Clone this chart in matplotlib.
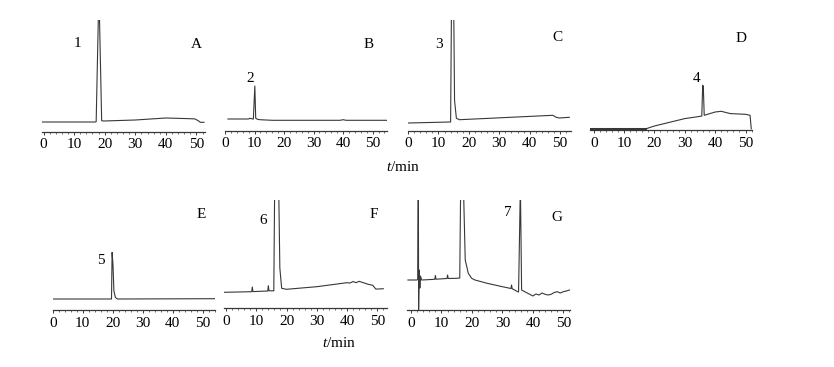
import numpy as np
import matplotlib
matplotlib.use('Agg')
import matplotlib.pyplot as plt
from matplotlib.ticker import MultipleLocator

# retention time (min) and detector signal (arbitrary units)
timeA = [-1.0, 16.9, 17.2, 17.9, 18.3, 19.0, 19.7, 30.0, 40.0, 48.0, 49.5, 50.6, 51.3, 52.5]
signalA = [9.7, 9.7, 10.0, 112.0, 112.0, 11.0, 10.7, 11.7, 13.7, 13.0, 12.8, 11.0, 9.4, 9.4]

timeB = [1.0, 8.0, 8.4, 9.6, 10.1, 10.4, 11.0, 11.8, 16.0, 39.0, 40.0, 41.0, 55.0]
signalB = [11.7, 11.7, 12.4, 11.6, 44.7, 12.5, 11.4, 11.0, 10.4, 10.4, 11.0, 10.4, 10.4]

timeC = [0.0, 14.0, 14.3, 15.0, 15.3, 15.9, 16.9, 26.8, 37.8, 47.6, 48.7, 49.7, 53.0]
signalC = [7.5, 8.5, 130.0, 130.0, 30.0, 12.2, 10.8, 12.2, 13.8, 15.2, 13.2, 12.5, 13.2]

timeD = [-1.0, 17.0, 20.0, 30.0, 35.6, 35.9, 36.1, 36.4, 40.0, 42.0, 45.0, 50.0, 51.5, 51.9]
signalD = [1.3, 1.3, 4.3, 11.7, 14.2, 45.0, 44.0, 15.0, 18.3, 19.0, 16.7, 16.0, 15.0, 1.5]

timeE = [-0.8, 19.3, 19.6, 19.8, 20.1, 20.4, 20.9, 21.6, 54.0]
signalE = [11.0, 11.0, 11.0, 57.6, 45.0, 19.0, 12.6, 11.0, 11.3]

timeF = [-0.7, 8.5, 8.7, 8.9, 13.8, 14.0, 14.2, 15.8, 16.1, 17.4, 17.8, 18.4, 20.0, 30.0,
         40.0, 41.0, 42.0, 43.0, 44.0, 47.0, 48.5, 49.5, 50.5, 52.0]
signalF = [15.7, 16.3, 21.0, 16.4, 17.0, 22.3, 17.2, 17.2, 125.0, 125.0, 40.0, 19.7, 18.7, 21.3,
           25.3, 25.0, 26.5, 25.3, 26.7, 23.7, 22.7, 19.0, 19.0, 19.3]

timeG = [-1.0, 2.0, 2.2, 2.4, 2.5, 2.7, 2.9, 3.1, 3.5, 7.8, 8.0, 8.2, 11.8, 12.0, 12.2,
         15.0, 16.0, 16.3, 17.2, 17.8, 18.8, 19.9, 21.0, 25.0, 30.0, 32.8, 33.0, 33.2,
         35.0, 35.3, 35.9, 36.3, 40.0, 41.0, 42.0, 43.0, 44.0, 45.0, 46.0, 47.0, 48.0,
         49.0, 50.0, 51.0, 52.0]
signalG = [30.0, 30.0, 31.0, 150.0, 0.0, 40.0, 22.0, 34.0, 30.0, 30.7, 34.5, 30.8, 31.5, 35.0, 31.5,
           31.7, 32.0, 125.0, 125.0, 50.0, 36.7, 31.7, 30.0, 26.7, 23.3, 21.5, 25.0, 21.3,
           18.3, 18.0, 125.0, 20.0, 14.0, 16.0, 15.0, 17.0, 15.7, 15.0, 15.7, 17.5, 18.3,
           17.0, 18.3, 19.0, 20.0]

panelLetters = ['A', 'B', 'C', 'D', 'E', 'F', 'G']
peakNumbers = ['1', '2', '3', '4', '5', '6', '7']
tickValues = [0, 10, 20, 30, 40, 50]
xLabel = '$t$/min'

times = [timeA, timeB, timeC, timeD, timeE, timeF, timeG]
signals = [signalA, signalB, signalC, signalD, signalE, signalF, signalG]

W, H = 834, 367
# pixel layout: x of time 0, px per min, axis left, axis right, axis y, clip top
layout = [
    (43.6, 3.056, 42.3, 204.5, 131.7, 20),
    (221.0, 3.026, 225.0, 387.0, 130.7, 20),
    (407.7, 3.049, 408.0, 570.7, 130.5, 20),
    (593.7, 3.036, 590.0, 751.7, 130.3, 20),
    (50.0, 3.050, 52.7, 215.0, 310.0, 200),
    (226.0, 3.025, 224.3, 386.7, 308.0, 200),
    (411.0, 3.047, 406.7, 570.0, 310.0, 200),
]
letterPos = [(196.7, 44), (368.3, 44), (557.3, 37.5), (740.7, 39),
             (201.7, 215), (373.3, 215), (556.7, 217.5)]
numberPos = [(77.7, 43.5), (250, 79), (439, 44), (696.7, 79),
             (101, 260), (263.3, 220), (508.3, 213)]

plt.rcParams['font.family'] = ['Liberation Serif', 'DejaVu Serif']
plt.rcParams['mathtext.fontset'] = 'custom'
plt.rcParams['mathtext.it'] = 'Liberation Serif:italic'

fig = plt.figure(figsize=(W / 100, H / 100), dpi=100)
ink = '#383838'

for i in range(7):
    x0, s, left, right, ay, top = layout[i]
    ax = fig.add_axes([left / W, 1 - ay / H, (right - left) / W, (ay - top) / H])
    ax.set_xlim((left - x0) / s, (right - x0) / s)
    ax.set_ylim(0, ay - top)
    ax.plot(times[i], signals[i], color=ink, lw=0.8)
    if i == 3:
        # thick flat start of trace D
        ax.plot(timeD[:2], signalD[:2], color=ink, lw=2.2)
    for side in ['top', 'left', 'right']:
        ax.spines[side].set_visible(False)
    ax.spines['bottom'].set_color(ink)
    ax.spines['bottom'].set_linewidth(0.9)
    ax.set_yticks([])
    ax.set_xticks(tickValues)
    ax.xaxis.set_minor_locator(MultipleLocator(2))
    ax.tick_params(axis='x', which='major', direction='out', length=2.5, width=0.7,
                   color=ink, pad=2.3, labelsize=11)
    ax.tick_params(axis='x', which='minor', direction='out', length=1.4, width=0.5, color=ink)
    ax.patch.set_alpha(0)

    fig.text(letterPos[i][0] / W, 1 - letterPos[i][1] / H, panelLetters[i],
             ha='center', va='center', fontsize=11)
    fig.text(numberPos[i][0] / W, 1 - numberPos[i][1] / H, peakNumbers[i],
             ha='center', va='center', fontsize=11)

fig.text(403 / W, 1 - 167 / H, xLabel, ha='center', va='center', fontsize=11)
fig.text(338.7 / W, 1 - 343 / H, xLabel, ha='center', va='center', fontsize=11)

plt.savefig('out.png', dpi=100)
